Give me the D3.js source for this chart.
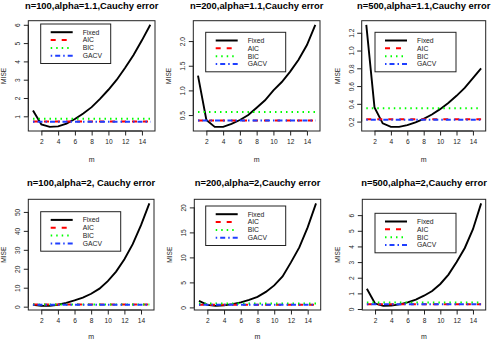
<!DOCTYPE html>
<html>
<head>
<meta charset="utf-8">
<script src="https://cdn.jsdelivr.net/npm/d3@7/dist/d3.min.js"></script>
<style>
  html, body { margin: 0; padding: 0; background: #fff; }
  svg { display: block; font-family: "Liberation Sans", Arial, Helvetica, sans-serif; }
</style>
</head>
<body>
<svg id="chart" width="494" height="340"></svg>
<script>
// ── data ────────────────────────────────────────────────────────────────
const m = [1, 2, 3, 4, 5, 6, 7, 8, 9, 10, 11, 12, 13, 14, 15];
const xTicks = [2, 4, 6, 8, 10, 12, 14];

const titles = [
    "n=100,alpha=1.1,Cauchy error",
    "n=200,alpha=1.1,Cauchy error",
    "n=500,alpha=1.1,Cauchy error",
    "n=100,alpha=2, Cauchy error",
    "n=200,alpha=2,Cauchy error",
    "n=500,alpha=2,Cauchy error"
];

// Fixed-m MISE curves
const fixed100a11 = [1.32, 0.55, 0.42, 0.45, 0.6, 0.85, 1.15, 1.5, 1.95, 2.45, 3.0, 3.65, 4.35, 5.15, 6.0];
const fixed200a11 = [1.3, 0.4, 0.26, 0.26, 0.32, 0.4, 0.5, 0.65, 0.8, 1.0, 1.17, 1.38, 1.62, 1.92, 2.33];
const fixed500a11 = [1.29, 0.36, 0.18, 0.14, 0.14, 0.16, 0.19, 0.23, 0.28, 0.34, 0.41, 0.49, 0.58, 0.69, 0.8];
const fixed100a2  = [1.0, 0.5, 0.4, 1.0, 2.0, 3.3, 4.8, 6.8, 9.5, 13.5, 18.5, 25.0, 33.0, 43.0, 54.5];
const fixed200a2  = [1.3, 0.5, 0.3, 0.4, 0.65, 1.0, 1.5, 2.1, 3.1, 4.4, 6.2, 9.0, 12.0, 16.0, 20.8];
const fixed500a2  = [1.3, 0.35, 0.2, 0.22, 0.3, 0.42, 0.6, 0.85, 1.15, 1.6, 2.2, 3.0, 3.9, 5.1, 6.75];

// data-driven selection levels, one per panel
const aicLevel  = [0.72, 0.39, 0.225, 1.1, 0.55, 0.3];
const bicLevel  = [0.87, 0.56, 0.35, 1.2, 0.8, 0.42];
const gacvLevel = [0.70, 0.39, 0.22, 1.0, 0.52, 0.3];

// y tick values per panel
const yTicks = [
    [1, 2, 3, 4, 5, 6],
    [0.5, 1.0, 1.5, 2.0],
    [0.2, 0.4, 0.6, 0.8, 1.0, 1.2],
    [0, 10, 20, 30, 40, 50],
    [0, 5, 10, 15, 20],
    [0, 1, 2, 3, 4, 5, 6]
];
const yFormats = [d3.format("d"), d3.format(".1f"), d3.format(".1f"), d3.format("d"), d3.format("d"), d3.format("d")];

const legendLabels = ["Fixed", "AIC", "BIC", "GACV"];

// ── layout ──────────────────────────────────────────────────────────────
// plot boxes [left, right, top, bottom] and legend offsets [dx, dy, width]
const boxes = [
    [28.3, 155, 20.7, 131],
    [193.3, 320, 20.7, 131],
    [361.7, 485.7, 20.7, 131],
    [28.3, 154, 199.3, 310],
    [194.3, 320.7, 199.3, 310],
    [362.3, 485.7, 199.3, 310]
];
const legendPos = [
    [12.4, 3.3, 70],
    [12.4, 11.6, 80],
    [13.3, 11.6, 81],
    [12.4, 12.4, 80],
    [11.4, 6.7, 80],
    [12.7, 14, 81]
];

const styles = [
    { color: "#000000", dash: null },
    { color: "#ff0000", dash: "5,6" },
    { color: "#00ff00", dash: "1.5,4" },
    { color: "#1f3fff", dash: "1.5,3,5,3" }
];

const fixedSeries = [fixed100a11, fixed200a11, fixed500a11, fixed100a2, fixed200a2, fixed500a2];

const svg = d3.select("#chart");

// R-style 4% axis extension
function rRange(lo, hi) {
    const pad = (hi - lo) * 0.04;
    return [lo - pad, hi + pad];
}

fixedSeries.forEach((fixed, i) => {
    const [L, R, T, B] = boxes[i];
    const series = [
        fixed,
        m.map(() => aicLevel[i]),
        m.map(() => bicLevel[i]),
        m.map(() => gacvLevel[i])
    ];
    const all = series.flat();

    const x = d3.scaleLinear().domain(rRange(d3.min(m), d3.max(m))).range([L, R]);
    const y = d3.scaleLinear().domain(rRange(d3.min(all), d3.max(all))).range([B, T]);

    const g = svg.append("g");

    // title
    g.append("text")
        .attr("x", (L + R) / 2)
        .attr("y", i < 3 ? 8.6 : T - 13)
        .attr("text-anchor", "middle")
        .style("font-size", "9.4px")
        .style("font-weight", "bold")
        .text(titles[i]);

    // x axis
    const xAxis = g.append("g")
        .attr("transform", `translate(0,${B})`)
        .call(d3.axisBottom(x).tickValues(xTicks).tickSize(4.5).tickPadding(3.5).tickFormat(d3.format("d")));
    xAxis.select(".domain").attr("d", `M${x(xTicks[0])},0H${x(xTicks[xTicks.length - 1])}`).attr("stroke", "#222");
    xAxis.selectAll("line").attr("stroke", "#222");
    xAxis.selectAll("text")
        .attr("fill", "#222")
        .style("font-size", "6.6px")
        .style("font-family", "\"Liberation Sans\", Arial, sans-serif");

    // y axis with rotated labels
    const yt = yTicks[i];
    const yAxis = g.append("g")
        .attr("transform", `translate(${L},0)`)
        .call(d3.axisLeft(y).tickValues(yt).tickSize(4.5).tickFormat(yFormats[i]));
    yAxis.select(".domain").attr("d", `M0,${y(yt[0])}V${y(yt[yt.length - 1])}`).attr("stroke", "#222");
    yAxis.selectAll("line").attr("stroke", "#222");
    yAxis.selectAll("text")
        .attr("x", null).attr("dy", null)
        .attr("text-anchor", "middle")
        .attr("transform", "translate(-8,0) rotate(-90)")
        .attr("y", 0)
        .attr("fill", "#222")
        .style("font-size", "6.6px")
        .style("font-family", "\"Liberation Sans\", Arial, sans-serif");

    // axis titles
    g.append("text")
        .attr("transform", `translate(${L - 22},${(T + B) / 2}) rotate(-90)`)
        .attr("text-anchor", "middle")
        .attr("fill", "#222")
        .style("font-size", "6.6px")
        .text("MISE");
    g.append("text")
        .attr("x", (L + R) / 2)
        .attr("y", Math.min(B + 30.7, 339))
        .attr("text-anchor", "middle")
        .attr("fill", "#222")
        .style("font-size", "7px")
        .text("m");

    // lines
    const line = d3.line().x((d, k) => x(m[k])).y(d => y(d));
    series.forEach((s, k) => {
        g.append("path")
            .datum(s)
            .attr("d", line)
            .attr("fill", "none")
            .attr("stroke", styles[k].color)
            .attr("stroke-width", k === 0 ? 1.9 : 2)
            .attr("stroke-dasharray", styles[k].dash);
    });

    // plot box
    g.append("rect")
        .attr("x", L).attr("y", T)
        .attr("width", R - L).attr("height", B - T)
        .attr("fill", "none")
        .attr("stroke", "#222")
        .attr("stroke-width", 1);

    // legend
    const [dx, dy, lw] = legendPos[i];
    const lg = g.append("g").attr("transform", `translate(${L + dx},${T + dy})`);
    lg.append("rect")
        .attr("width", lw).attr("height", 39.5)
        .attr("fill", "#fff")
        .attr("stroke", "#222")
        .attr("stroke-width", 1);
    legendLabels.forEach((lab, k) => {
        const ly = 8.2 + k * 7.85;
        lg.append("line")
            .attr("x1", 10).attr("x2", 32)
            .attr("y1", ly).attr("y2", ly)
            .attr("stroke", styles[k].color)
            .attr("stroke-width", 2)
            .attr("stroke-dasharray", styles[k].dash);
        lg.append("text")
            .attr("x", 42).attr("y", ly + 2.4)
            .attr("fill", "#222")
            .style("font-size", "6.8px")
            .text(lab);
    });
});
</script>
</body>
</html>
